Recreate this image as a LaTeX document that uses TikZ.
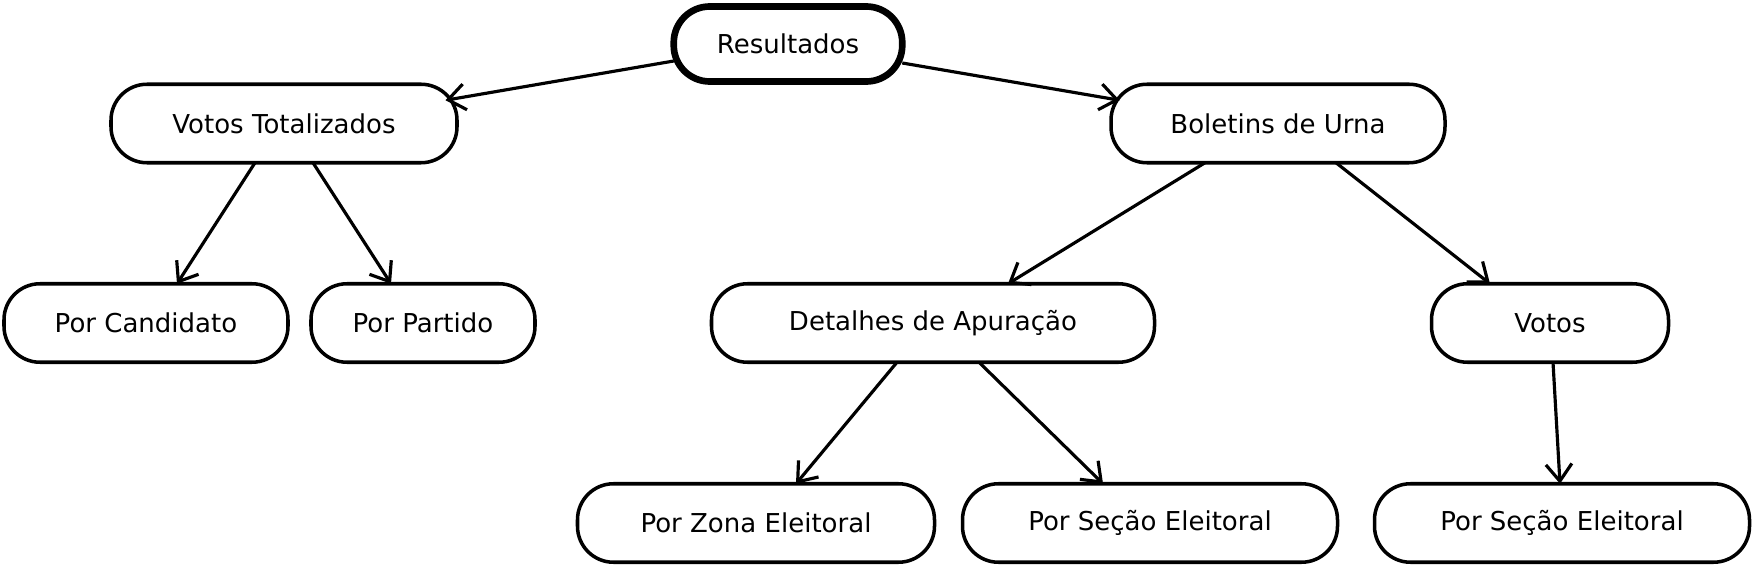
\documentclass[tikz,border=0pt]{standalone}
\usepackage{fontspec}
\setmainfont{DejaVu Sans}
\usetikzlibrary{
  arrows.meta,
  positioning
}

\begin{document}
\begin{tikzpicture}[
  box/.style={draw,line width=2pt,rounded corners=0.72cm,minimum height=1.57cm,
    inner sep=0,outer sep=0,font=\fontsize{14.8}{17}\selectfont},
  link/.style={-{Straight Barb[length=0.34cm,width=0.52cm]},line width=1.8pt}
]
  \useasboundingbox (0, 0) rectangle (35.06, -11.32);

  \node[box,line width=3.8pt,minimum height=1.5cm,minimum width=4.57cm] at (15.76, -0.88) (Results) {Resultados};
  \node[box,minimum width=6.92cm] at (5.68, -2.47) (Totals) {Votos Totalizados};
  \node[box,minimum width=6.68cm] at (25.56, -2.47) (Bulletins) {Boletins de Urna};

  \node[box,minimum width=5.68cm] at (2.92, -6.46) (ByCandidate) {Por Candidato};
  \node[box,minimum width=4.48cm] at (8.46, -6.46) (ByParty) {Por Partido};
  \node[box,minimum width=8.86cm] at (18.66, -6.46) (Details) {Detalhes de Apuração};
  \node[box,minimum width=4.74cm] at (31.0, -6.46) (Votes) {Votos};

  \node[box,minimum width=7.14cm] at (15.12, -10.46) (ByZone) {Por Zona Eleitoral};
  \node[box,minimum width=7.5cm] at (23.0, -10.46) (BySection) {Por Seção Eleitoral};
  \node[box,minimum width=7.5cm] at (31.24, -10.46) (BySectionVotes) {Por Seção Eleitoral};

  % first level
  \draw[link] ([yshift=-0.34cm] Results.west) -- ([xshift=-0.23cm,yshift=-0.32cm] Totals.north east);
  \draw[link] ([yshift=-0.38cm] Results.east) -- ([xshift=0.17cm,yshift=-0.32cm] Bulletins.north west);

  % second level
  \draw[link] ([xshift=-0.58cm] Totals.south) -- ([xshift=0.62cm] ByCandidate.north);
  \draw[link] ([xshift=0.58cm] Totals.south) -- ([xshift=-0.64cm] ByParty.north);
  \draw[link] ([xshift=-1.46cm] Bulletins.south) -- ([xshift=1.5cm] Details.north);
  \draw[link] ([xshift=1.16cm] Bulletins.south) -- ([xshift=-1.2cm] Votes.north);

  % third level
  \draw[link] ([xshift=-0.72cm] Details.south) -- ([xshift=0.8cm] ByZone.north);
  \draw[link] ([xshift=0.92cm] Details.south) -- ([xshift=-0.94cm] BySection.north);
  \draw[link] ([xshift=0.06cm] Votes.south) -- ([xshift=-0.04cm] BySectionVotes.north);
\end{tikzpicture}
\end{document}
